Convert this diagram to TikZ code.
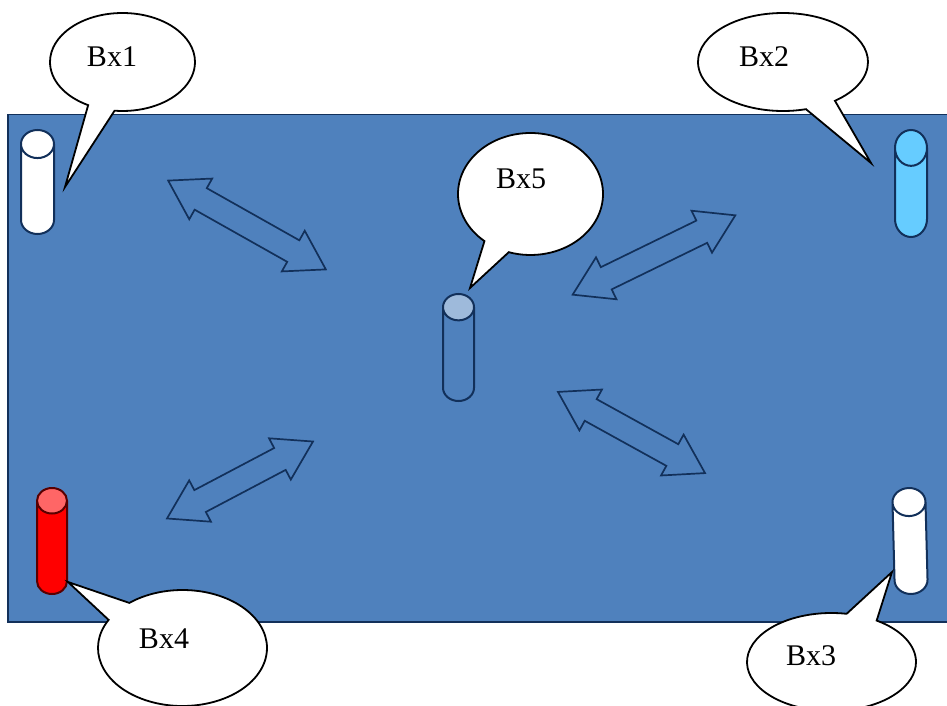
\documentclass[tikz,border=0pt]{standalone}
\usepackage{fontspec}
\setmainfont{Liberation Serif}
\usetikzlibrary{shapes.geometric}
\usetikzlibrary{shapes.arrows}
\usetikzlibrary{shapes.callouts}
\definecolor{panelblue}{HTML}{4F81BD}
\definecolor{navyline}{HTML}{12305A}
\definecolor{skyfill}{HTML}{66CCFF}
\tikzset{
    balloon/.style={ellipse callout, draw=black, line width=1.8pt, fill=white, inner sep=0pt, callout pointer arc=22},
    balloontext/.style={font=\fontsize{30}{36}\selectfont, inner sep=0pt},
    post/.style={cylinder, shape border rotate=90, draw=navyline, line width=2pt, inner sep=#1, shape aspect=.85, cylinder uses custom fill, anchor=shape center},
    twoway/.style={double arrow, draw=navyline, line width=1.7pt, inner sep=0pt, inner ysep=11.5pt, double arrow head extend=11pt, double arrow tip angle=64}
}
\begin{document}
\begin{tikzpicture}[x=1pt, y=-1pt]
    \useasboundingbox (0, 0) rectangle (947, 706);
    \clip (0, 0) rectangle (947, 706);
    \coordinate (P1) at (65, 187);
    \coordinate (P2) at (871, 163);
    \coordinate (P3) at (892, 572);
    \coordinate (P4) at (68, 582);
    \coordinate (P5) at (470, 288);
    \fill[white] (0, 0) rectangle (947, 706);
    \draw[fill=panelblue, draw=navyline, line width=1.2pt] (8, 114.5) rectangle (950, 622);
    \node[post=16.5pt, minimum height=104pt, cylinder body fill=white, cylinder end fill=white] (C1) at (37.5, 182) {};
    \node[post=16pt, shape aspect=1.12, minimum height=107pt, cylinder body fill=skyfill, cylinder end fill=skyfill] (C2) at (911, 183.5) {};
    \node[post=16.5pt, minimum height=106pt, rotate=1.5, cylinder body fill=white, cylinder end fill=white] (C3) at (910, 541) {};
    \node[post=15pt, minimum height=106pt, cylinder body fill=red, cylinder end fill=red!60!white, draw=red!35!black] (C4) at (52, 541) {};
    \node[post=15.5pt, minimum height=107pt, cylinder body fill=panelblue, cylinder end fill=panelblue!55!white] (C5) at (458.5, 347.5) {};
    \node[twoway, minimum height=181pt, rotate=-29.4] (A1) at (247, 225) {};
    \node[twoway, minimum height=181pt, rotate=26] (A2) at (654, 255) {};
    \node[twoway, minimum height=168pt, rotate=-28.9] (A3) at (631.5, 432.5) {};
    \node[twoway, minimum height=165pt, rotate=27.8] (A4) at (240, 480) {};
    \node[balloon, minimum width=145pt, minimum height=98pt, callout absolute pointer={(P1)}] (Bx1) at (122.5, 62) {};
    \node[balloon, minimum width=170pt, minimum height=98pt, callout absolute pointer={(P2)}] (Bx2) at (783, 62) {};
    \node[balloon, minimum width=169pt, minimum height=98pt, callout absolute pointer={(P3)}] (Bx3) at (831.5, 662) {};
    \node[balloon, minimum width=169pt, minimum height=116pt, callout absolute pointer={(P4)}] (Bx4) at (182.5, 648) {};
    \node[balloon, minimum width=145pt, minimum height=122pt, callout absolute pointer={(P5)}] (Bx5) at (530.5, 194) {};
    \node[balloontext] (T1) at (112, 57) {Bx1};
    \node[balloontext] (T2) at (764, 57) {Bx2};
    \node[balloontext] (T3) at (811, 656) {Bx3};
    \node[balloontext] (T4) at (164, 639) {Bx4};
    \node[balloontext] (T5) at (521, 179) {Bx5};
  \end{tikzpicture}
\end{document}
